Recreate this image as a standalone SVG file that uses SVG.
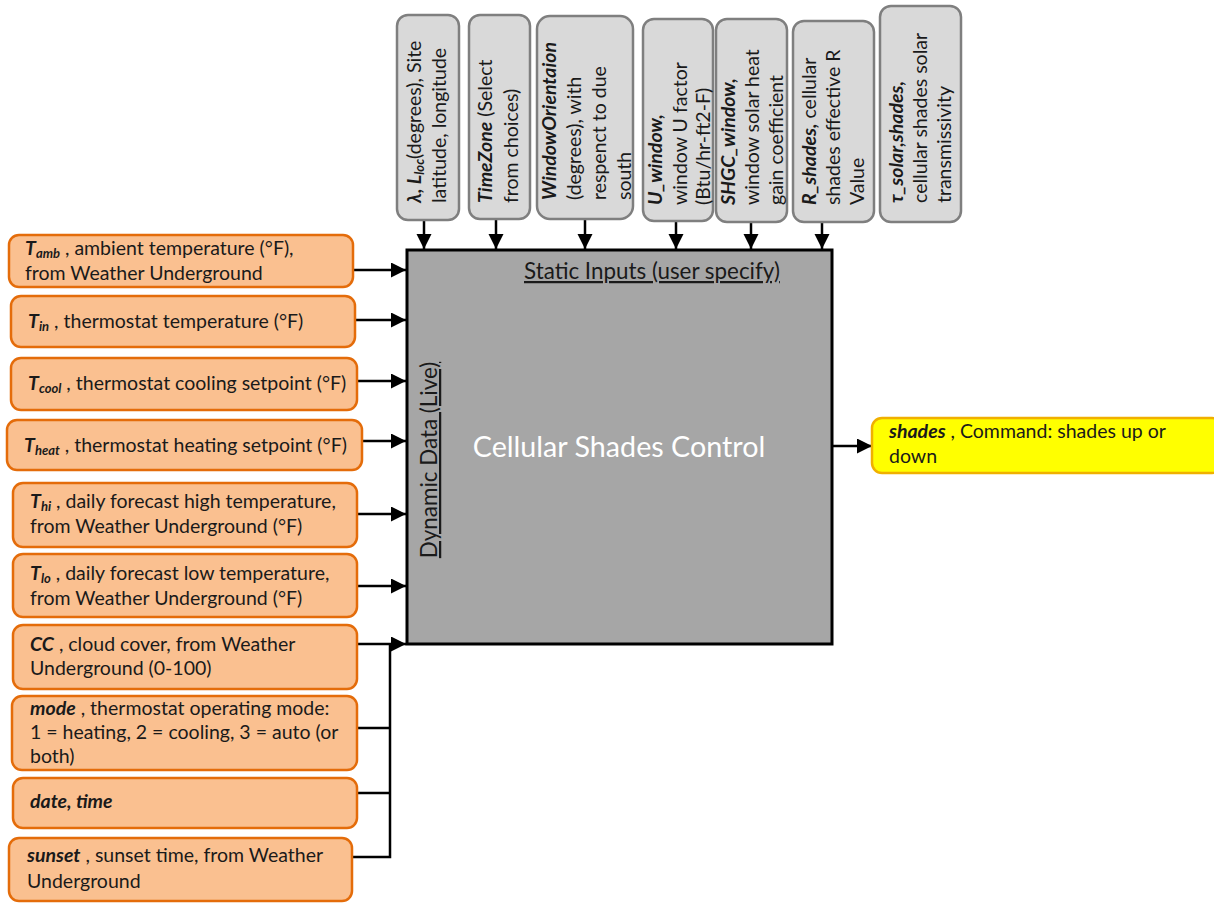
<svg xmlns="http://www.w3.org/2000/svg" width="1214" height="903" viewBox="0 0 1214 903">
<style>
text{font-family:Lato,"Open Sans","Liberation Sans",sans-serif;font-size:19.5px;fill:#1a1a1a}
.bi{font-weight:bold;font-style:italic}
.sub{font-size:13px}
.org{fill:#FAC090;stroke:#E46C0A;stroke-width:2.5}
.gry{fill:#D9D9D9;stroke:#7F7F7F;stroke-width:2.5}
.yel{fill:#FFFF00;stroke:#F0B000;stroke-width:2.5}
.main{fill:#A6A6A6;stroke:#000;stroke-width:3}
.ln{stroke:#000;stroke-width:2.5;fill:none}
.title{fill:#fff;font-size:28.7px}
.lbl{font-size:22.4px;text-decoration:underline}
</style>
<defs>
<marker id="ah" markerUnits="userSpaceOnUse" markerWidth="16" markerHeight="16" refX="15" refY="7.5" orient="auto">
<path d="M0,0 L15,7.5 L0,15 z" fill="#000"/>
</marker>
</defs>

<g id="connectors">
<line class="ln" x1="424" y1="220" x2="424" y2="249" marker-end="url(#ah)"/>
<line class="ln" x1="496" y1="219" x2="496" y2="249" marker-end="url(#ah)"/>
<line class="ln" x1="585" y1="219" x2="585" y2="249" marker-end="url(#ah)"/>
<line class="ln" x1="676" y1="221" x2="676" y2="249" marker-end="url(#ah)"/>
<line class="ln" x1="751" y1="222" x2="751" y2="249" marker-end="url(#ah)"/>
<line class="ln" x1="822" y1="222" x2="822" y2="249" marker-end="url(#ah)"/>
<line class="ln" x1="353" y1="270" x2="406" y2="270" marker-end="url(#ah)"/>
<line class="ln" x1="355" y1="320" x2="406" y2="320" marker-end="url(#ah)"/>
<line class="ln" x1="357" y1="381" x2="406" y2="381" marker-end="url(#ah)"/>
<line class="ln" x1="362" y1="441" x2="406" y2="441" marker-end="url(#ah)"/>
<line class="ln" x1="357" y1="514" x2="406" y2="514" marker-end="url(#ah)"/>
<line class="ln" x1="357" y1="586" x2="406" y2="586" marker-end="url(#ah)"/>
<line class="ln" x1="357" y1="644" x2="406" y2="644" marker-end="url(#ah)"/>
<line class="ln" x1="357" y1="728" x2="390" y2="728"/>
<line class="ln" x1="357" y1="793" x2="390" y2="793"/>
<polyline class="ln" points="352,857 390,857 390,643"/>
<line class="ln" x1="832" y1="446" x2="872" y2="446" marker-end="url(#ah)"/>
</g>

<g id="main">
<rect class="main" x="407" y="250" width="425" height="394"/>
<text x="524" y="279" class="lbl">Static Inputs (user specify)</text>
<text class="title" x="619" y="457" text-anchor="middle">Cellular Shades Control</text>
<text class="lbl" transform="translate(437,460) rotate(-90)" text-anchor="middle">Dynamic Data (Live)</text>
</g>

<g id="s1">
<rect class="gry" x="397" y="15" width="62" height="205" rx="11"/>
<text transform="translate(421,203) rotate(-90)"><tspan class="bi">λ, L</tspan><tspan class="bi sub" dy="3">loc</tspan><tspan dy="-3">(degrees), Site</tspan><tspan x="0" y="25">latitude, longitude</tspan></text>
</g>
<g id="s2">
<rect class="gry" x="469" y="15" width="61" height="204" rx="11"/>
<text transform="translate(492,203) rotate(-90)"><tspan class="bi">TimeZone</tspan><tspan> (Select</tspan><tspan x="0" y="26">from choices)</tspan></text>
</g>
<g id="s3">
<rect class="gry" x="537" y="16" width="96" height="203" rx="13"/>
<text transform="translate(556,200) rotate(-90)"><tspan class="bi">WindowOrientaion</tspan><tspan x="0" y="25">(degrees), with</tspan><tspan x="0" y="50">respenct to due</tspan><tspan x="0" y="75">south</tspan></text>
</g>
<g id="s4">
<rect class="gry" x="643" y="19" width="70" height="202" rx="11"/>
<text transform="translate(662,205) rotate(-90)"><tspan class="bi">U_window,</tspan><tspan x="0" y="25">window U factor</tspan><tspan x="0" y="48">(Btu/hr-ft2-F)</tspan></text>
</g>
<g id="s5">
<rect class="gry" x="716" y="19" width="71" height="203" rx="11"/>
<text transform="translate(735,205) rotate(-90)"><tspan class="bi">SHGC_window,</tspan><tspan x="0" y="24">window solar heat</tspan><tspan x="0" y="48">gain coefficient</tspan></text>
</g>
<g id="s6">
<rect class="gry" x="793" y="21" width="81" height="201" rx="11"/>
<text transform="translate(816,205) rotate(-90)"><tspan class="bi">R_shades,</tspan><tspan> cellular</tspan><tspan x="0" y="24">shades effective R</tspan><tspan x="0" y="48">Value</tspan></text>
</g>
<g id="s7">
<rect class="gry" x="880" y="6" width="81" height="216" rx="11"/>
<text transform="translate(903,203) rotate(-90)"><tspan class="bi">τ_solar,shades,</tspan><tspan x="0" y="24">cellular shades solar</tspan><tspan x="0" y="48">transmissivity</tspan></text>
</g>

<g id="d1">
<rect class="org" x="9" y="235" width="344" height="52" rx="10"/>
<text x="25" y="255"><tspan class="bi">T</tspan><tspan class="bi sub" dy="3">amb</tspan><tspan dy="-3"> , ambient temperature (°F),</tspan><tspan x="25" y="280">from Weather Underground</tspan></text>
</g>
<g id="d2">
<rect class="org" x="11" y="296" width="344" height="51" rx="10"/>
<text x="28" y="328"><tspan class="bi">T</tspan><tspan class="bi sub" dy="3">in</tspan><tspan dy="-3"> , thermostat temperature (°F)</tspan></text>
</g>
<g id="d3">
<rect class="org" x="11" y="358" width="346" height="52" rx="10"/>
<text x="28" y="390"><tspan class="bi">T</tspan><tspan class="bi sub" dy="3">cool</tspan><tspan dy="-3"> , thermostat cooling setpoint (°F)</tspan></text>
</g>
<g id="d4">
<rect class="org" x="7" y="420" width="355" height="50" rx="10"/>
<text x="24" y="452"><tspan class="bi">T</tspan><tspan class="bi sub" dy="3">heat</tspan><tspan dy="-3"> , thermostat heating setpoint (°F)</tspan></text>
</g>
<g id="d5">
<rect class="org" x="13" y="483" width="344" height="64" rx="10"/>
<text x="30" y="508"><tspan class="bi">T</tspan><tspan class="bi sub" dy="3">hi</tspan><tspan dy="-3"> , daily forecast high temperature,</tspan><tspan x="30" y="533">from Weather Underground (°F)</tspan></text>
</g>
<g id="d6">
<rect class="org" x="13" y="554" width="344" height="63" rx="10"/>
<text x="30" y="580"><tspan class="bi">T</tspan><tspan class="bi sub" dy="3">lo</tspan><tspan dy="-3"> , daily forecast low temperature,</tspan><tspan x="30" y="605">from Weather Underground (°F)</tspan></text>
</g>
<g id="d7">
<rect class="org" x="13" y="625" width="344" height="64" rx="10"/>
<text x="30" y="651"><tspan class="bi">CC</tspan><tspan> , cloud cover, from Weather</tspan><tspan x="30" y="675">Underground (0-100)</tspan></text>
</g>
<g id="d8">
<rect class="org" x="12" y="696" width="345" height="74" rx="10"/>
<text x="30" y="715"><tspan class="bi">mode</tspan><tspan> , thermostat operating mode:</tspan><tspan x="30" y="739">1 = heating, 2 = cooling, 3 = auto (or</tspan><tspan x="30" y="763">both)</tspan></text>
</g>
<g id="d9">
<rect class="org" x="13" y="778" width="344" height="50" rx="10"/>
<text x="30" y="808" class="bi">date, time</text>
</g>
<g id="d10">
<rect class="org" x="9" y="838" width="343" height="63" rx="10"/>
<text x="27" y="862"><tspan class="bi">sunset</tspan><tspan> , sunset time, from Weather</tspan><tspan x="27" y="888">Underground</tspan></text>
</g>

<g id="out">
<rect class="yel" x="872" y="418" width="350" height="55" rx="10"/>
<text x="889" y="438"><tspan class="bi">shades</tspan><tspan> , Command: shades up or</tspan><tspan x="889" y="463">down</tspan></text>
</g>
</svg>
